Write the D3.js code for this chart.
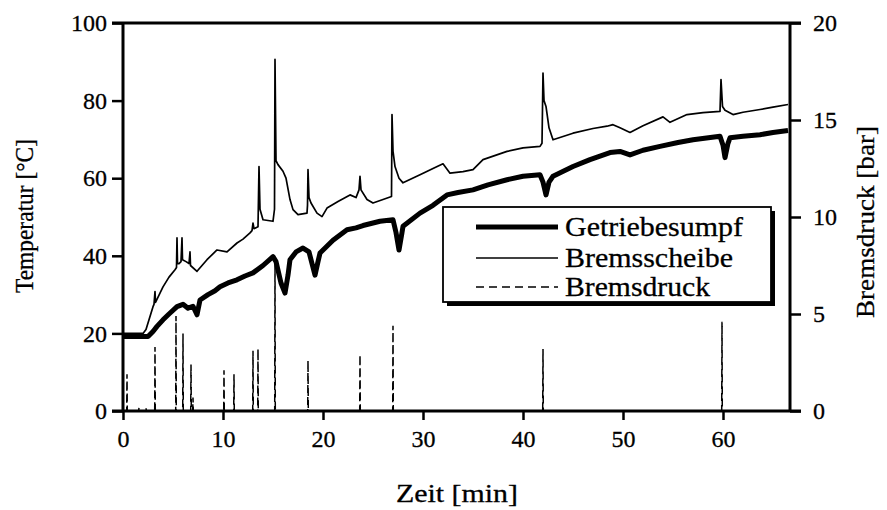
<!DOCTYPE html>
<html>
<head>
<meta charset="utf-8">
<script src="https://cdn.jsdelivr.net/npm/d3@7"></script>
<style>
  html, body { margin: 0; padding: 0; background: #fff; }
  svg { display: block; }
  text { font-family: "Liberation Serif", "DejaVu Serif", serif; fill: #000; stroke: #000; stroke-width: 0.3px; }
</style>
</head>
<body>
<svg id="chart" width="887" height="510"></svg>
<script>
// Getriebesumpf temperature [°C] over time [min]
const sumpTime = [0, 2.5, 3.0, 3.4, 4.0, 4.6, 5.4, 6.0, 6.5, 7.0, 7.4, 7.7, 8.5, 9.2, 9.7, 10.5, 11.4, 12.2, 13.0, 14.0, 15.0,
  15.3, 15.8, 16.2, 16.5, 16.7, 17.3, 18.0, 18.6, 19.2, 19.5, 19.7, 21.0, 22.4, 23.3, 24.0, 25.7, 27.0, 27.3, 27.6, 27.9, 28.0,
  29.7, 31.0, 32.4, 33.5, 35.0, 36.5, 38.4, 40.0, 41.7, 42.0, 42.3, 42.6, 43.0, 45.0, 46.7, 48.7, 49.7, 50.7, 52.0, 53.7,
  55.5, 57.0, 59.7, 60.0, 60.2, 60.5, 60.7, 62.0, 63.7, 65.0, 66.5];
const sumpTemp = [19.2, 19.2, 20.5, 21.8, 23.5, 25.0, 26.9, 27.5, 26.5, 27.0, 24.8, 28.6, 30.0, 31.0, 32.0, 33.0, 33.8, 34.8, 35.6, 37.5, 39.8,
  38.5, 33.0, 30.4, 35.0, 39.0, 41.0, 42.0, 41.0, 35.0, 38.5, 40.7, 44.0, 46.7, 47.2, 47.8, 48.9, 49.3, 46.0, 41.5, 46.0, 47.6,
  51.0, 53.0, 55.7, 56.3, 57.0, 58.3, 59.6, 60.5, 60.9, 59.0, 55.7, 59.0, 60.5, 63.0, 64.8, 66.6, 66.9, 66.0, 67.2, 68.2,
  69.2, 69.9, 70.8, 68.5, 65.3, 69.0, 70.4, 70.8, 71.2, 71.8, 72.3];

// Bremsscheibe temperature [°C] over time [min]
const discTime = [0, 2.0, 2.3, 3.0, 3.1, 3.2, 3.25, 4.0, 4.6, 5.2, 5.35, 5.4, 5.45, 5.6, 5.8, 5.9, 5.95, 6.3, 6.6, 6.7, 6.75,
  7.4, 8.4, 9.4, 10.4, 11.4, 12.0, 12.7, 12.9, 13.0, 13.1, 13.5, 13.6, 13.7, 14.0, 15.0, 15.15, 15.2, 15.3, 15.5, 16.0,
  16.3, 16.7, 17.0, 17.5, 18.4, 18.45, 18.5, 18.6, 18.8, 19.4, 19.9, 20.4, 21.5, 22.7, 23.3, 23.6, 23.7, 23.8, 24.4, 25.0,
  26.0, 26.85, 26.9, 27.0, 27.2, 27.6, 28.0, 29.7, 31.0, 32.0, 32.7, 34.0, 35.0, 36.0, 38.4, 40.0, 41.7, 41.9, 42.0, 42.1,
  42.3, 42.6, 43.0, 45.0, 47.0, 48.4, 49.0, 49.7, 50.7, 52.0, 54.0, 54.7, 56.4, 58.0, 59.7, 59.8, 59.95, 60.2, 61.0, 62.0,
  63.7, 65.0, 66.5];
const discTemp = [20.0, 20.0, 21.0, 26.9, 27.5, 30.8, 28.0, 32.0, 34.5, 36.4, 37.0, 44.6, 38.0, 38.0, 38.5, 44.6, 39.0, 38.5, 38.0, 41.0, 37.5,
  36.0, 39.0, 41.5, 41.0, 43.3, 44.3, 45.9, 46.5, 48.4, 47.0, 47.5, 63.0, 52.0, 49.3, 48.9, 52.0, 90.6, 64.5, 63.5, 61.8,
  60.0, 54.5, 51.9, 50.6, 51.0, 53.0, 62.2, 55.0, 53.6, 51.0, 50.1, 52.3, 54.0, 55.7, 55.0, 57.0, 60.5, 57.0, 54.5, 53.6,
  54.5, 55.3, 76.4, 67.0, 63.0, 60.0, 58.8, 60.9, 62.5, 63.7, 61.3, 61.7, 62.2, 64.8, 66.9, 67.8, 68.2, 69.0, 87.1, 80.0,
  78.5, 73.0, 69.9, 71.6, 72.8, 73.4, 73.8, 73.0, 71.8, 73.5, 75.8, 74.4, 76.4, 76.9, 77.2, 85.4, 78.5, 77.5, 76.4, 77.0,
  77.7, 78.3, 79.0];

// Bremsdruck [bar]: brake applications (time of pulse and peak pressure)
const pulseTime = [0.4, 1.6, 2.3, 3.2, 5.3, 6.0, 6.8, 7.0, 10.1, 11.1, 13.0, 13.5, 15.2, 18.5, 23.7, 27.0, 42.0, 59.9];
const pulseBar  = [1.9, 0.2, 0.2, 3.3, 4.9, 4.0, 2.4, 0.7, 2.1, 1.9, 3.1, 3.2, 7.9, 2.6, 2.9, 4.4, 3.2, 4.6];

// Axis ticks
const timeTicks = [0, 10, 20, 30, 40, 50, 60];
const tempTicks = [0, 20, 40, 60, 80, 100];
const pressTicks = [0, 5, 10, 15, 20];

// Legend entries
const seriesNames = ["Getriebesumpf", "Bremsscheibe", "Bremsdruck"];

(function () {
  const svg = d3.select("#chart");
  const pLeft = 123, pRight = 790, pTop = 23, pBottom = 411;

  const x = d3.scaleLinear().domain([0, 66.7]).range([pLeft, pRight]);
  const yT = d3.scaleLinear().domain([0, 100]).range([pBottom, pTop]);
  const yP = d3.scaleLinear().domain([0, 20]).range([pBottom, pTop]);

  // Series paths
  const lineT = d3.line().x(d => x(d[0])).y(d => yT(d[1]));
  const lineP = d3.line().x(d => x(d[0])).y(d => yP(d[1]));

  const pressPts = [[0, 0]];
  pulseTime.forEach((t, i) => {
    pressPts.push([t - 0.03, 0], [t, pulseBar[i]], [t + 0.03, 0]);
  });
  pressPts.push([66.7, 0]);

  const plot = svg.append("g");

  plot.append("path")
    .datum(pressPts)
    .attr("d", lineP)
    .attr("fill", "none")
    .attr("stroke", "#000")
    .attr("stroke-width", 1.5)
    .attr("stroke-dasharray", "8,4");

  plot.append("path")
    .datum(discTime.map((t, i) => [t, discTemp[i]]))
    .attr("d", lineT)
    .attr("fill", "none")
    .attr("stroke", "#000")
    .attr("stroke-width", 1.7)
    .attr("stroke-linejoin", "round");

  plot.append("path")
    .datum(sumpTime.map((t, i) => [t, sumpTemp[i]]))
    .attr("d", lineT)
    .attr("fill", "none")
    .attr("stroke", "#000")
    .attr("stroke-width", 5)
    .attr("stroke-linejoin", "round");

  // Axes
  function styleAxis(g) {
    g.selectAll(".domain").remove();
    g.selectAll(".tick line").attr("stroke", "#000").attr("stroke-width", 2.5);
    g.selectAll(".tick text").style("font-size", "24px")
      .style("font-family", "'Liberation Serif', serif")
      .style("stroke", "#000").style("stroke-width", "0.3px");
  }

  svg.append("g")
    .attr("transform", `translate(${pLeft},0)`)
    .call(d3.axisLeft(yT).tickValues(tempTicks).tickSize(11).tickPadding(5))
    .call(styleAxis);

  svg.append("g")
    .attr("transform", `translate(${pRight},0)`)
    .call(d3.axisRight(yP).tickValues(pressTicks).tickSize(11).tickPadding(12))
    .call(styleAxis);

  svg.append("g")
    .attr("transform", `translate(0,${pBottom})`)
    .call(d3.axisBottom(x).tickValues(timeTicks).tickSize(9).tickPadding(10))
    .call(styleAxis);

  // Frame: left and right axes, bottom axis and top edge
  const frame = svg.append("g").attr("stroke", "#000").attr("stroke-width", 3);
  frame.append("line").attr("x1", pLeft).attr("x2", pLeft).attr("y1", pTop).attr("y2", pBottom);
  frame.append("line").attr("x1", pRight).attr("x2", pRight).attr("y1", pTop).attr("y2", pBottom);
  frame.append("line").attr("x1", pLeft - 11).attr("x2", pRight + 11).attr("y1", pBottom).attr("y2", pBottom);
  frame.append("line").attr("x1", pLeft - 11).attr("x2", pRight + 11).attr("y1", pTop).attr("y2", pTop);

  // Axis titles
  svg.append("text")
    .attr("transform", "translate(457,502)")
    .attr("text-anchor", "middle")
    .attr("textLength", 122)
    .attr("lengthAdjust", "spacingAndGlyphs")
    .style("font-size", "25px")
    .text("Zeit [min]");

  svg.append("text")
    .attr("transform", "translate(33,216) rotate(-90)")
    .attr("text-anchor", "middle")
    .attr("textLength", 154)
    .attr("lengthAdjust", "spacingAndGlyphs")
    .style("font-size", "25px")
    .text("Temperatur [°C]");

  svg.append("text")
    .attr("transform", "translate(874,222) rotate(-90)")
    .attr("text-anchor", "middle")
    .attr("textLength", 192)
    .attr("lengthAdjust", "spacingAndGlyphs")
    .style("font-size", "26px")
    .text("Bremsdruck [bar]");

  // Legend with drop shadow
  const lg = svg.append("g");
  const lx = 443, ly = 207, lw = 328, lh = 95;
  lg.append("rect").attr("x", lx + 4).attr("y", ly + 4).attr("width", lw).attr("height", lh).attr("fill", "#000");
  lg.append("rect").attr("x", lx).attr("y", ly).attr("width", lw).attr("height", lh)
    .attr("fill", "#fff").attr("stroke", "#000").attr("stroke-width", 1.8);

  const legendStyles = [
    { w: 5, dash: null, len: 178 },
    { w: 1.7, dash: null, len: 168 },
    { w: 1.5, dash: "8,5", len: 145 }
  ];
  const rowY = [227, 258, 287];
  seriesNames.forEach((name, i) => {
    const ln = lg.append("line")
      .attr("x1", 476).attr("x2", 558)
      .attr("y1", rowY[i]).attr("y2", rowY[i])
      .attr("stroke", "#000").attr("stroke-width", legendStyles[i].w);
    if (legendStyles[i].dash) ln.attr("stroke-dasharray", legendStyles[i].dash);
    lg.append("text")
      .attr("x", 565).attr("y", rowY[i] + 9)
      .attr("textLength", legendStyles[i].len)
      .attr("lengthAdjust", "spacingAndGlyphs")
      .style("font-size", "27px")
      .text(name);
  });
})();
</script>
</body>
</html>
